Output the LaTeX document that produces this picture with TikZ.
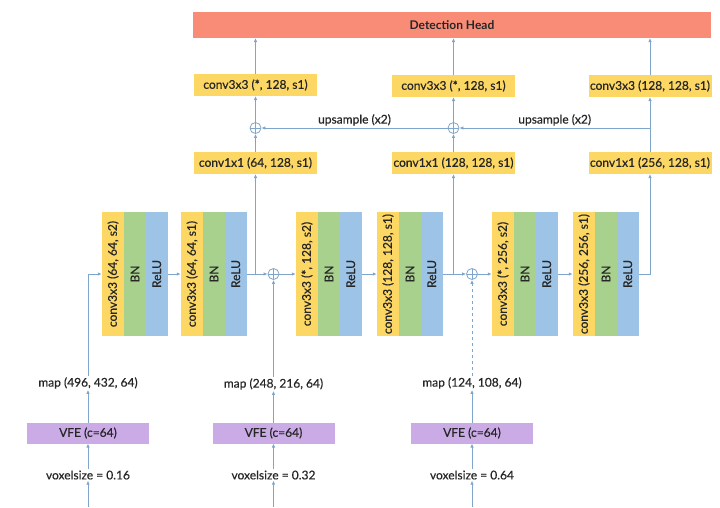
\documentclass[tikz,border=0pt]{standalone}
\usepackage{fontspec}
\setmainfont{Lato}[UprightFeatures={FakeBold=0.5}]
\usepackage{tikz}
\usetikzlibrary{calc, math}
\usetikzlibrary{arrows.meta}
\usetikzlibrary{positioning}
\definecolor{headcolor}{HTML}{F98C77}
\definecolor{convcolor}{HTML}{FCD763}
\definecolor{bncolor}{HTML}{A9D18E}
\definecolor{relucolor}{HTML}{9DC3E6}
\definecolor{vfecolor}{HTML}{CBABE6}
\definecolor{linkcolor}{HTML}{7FA5CB}
\definecolor{textcolor}{HTML}{262626}

\begin{document}
\begin{tikzpicture}[x=1pt, y=-1pt, font=\fontsize{12}{14}\selectfont,
  box/.style={rectangle, inner sep=0pt, outer sep=0pt, text=textcolor},
  headbox/.style={box, fill=headcolor, minimum width=518, minimum height=26},
  convbox/.style={box, fill=convcolor, minimum width=123, minimum height=22},
  vfebox/.style={box, fill=vfecolor, minimum width=122, minimum height=21},
  convbar/.style={box, fill=convcolor, minimum width=22.5, minimum height=124},
  bnbar/.style={box, fill=bncolor, minimum width=21.5, minimum height=124},
  relubar/.style={box, fill=relucolor, minimum width=22, minimum height=124},
  txtlabel/.style={inner sep=1pt, text=textcolor},
  sumnode/.style={circle, draw=linkcolor, line width=0.8pt, minimum size=11, inner sep=0pt,
    path picture={\draw[linkcolor, line width=0.8pt]
      (path picture bounding box.north) -- (path picture bounding box.south)
      (path picture bounding box.west) -- (path picture bounding box.east);}},
  link/.style={draw=linkcolor, line width=0.8pt, -{Latex[length=4pt, width=3.5pt]}}]
  \tikzmath{
    \colA=255.5;
    \colB=453.5;
    \colC=650;
    \yblk=274;
    \inA=88;
    \inB=273.5;
    \inC=472;
  }
  \useasboundingbox (0, 0) rectangle (720, 507);

  % Detection head and top-down path
  \node[headbox] (head) at (452, 25) {\bfseries Detection Head};

  \node[convbox] (top1) at (\colA, 85) {conv3x3 (*, 128, s1)};
  \node[convbox] (top2) at (\colB, 86) {conv3x3 (*, 128, s1)};
  \node[convbox] (top3) at (\colC, 86) {conv3x3 (128, 128, s1)};

  \node[sumnode] (sum1) at (\colA, 128) {};
  \node[sumnode] (sum2) at (\colB, 128) {};

  \node[convbox] (lat1) at (\colA, 163) {conv1x1 (64, 128, s1)};
  \node[convbox] (lat2) at (\colB, 163) {conv1x1 (128, 128, s1)};
  \node[convbox] (lat3) at (\colC, 163) {conv1x1 (256, 128, s1)};

  % Backbone blocks
  \foreach \i/\x/\lab in {1/113/{conv3x3 (64, 64, s2)}, 2/192/{conv3x3 (64, 64, s1)},
      3/307/{conv3x3 (*, 128, s2)}, 4/388/{conv3x3 (128, 128, s1)},
      5/503/{conv3x3 (*, 256, s2)}, 6/584/{conv3x3 (256, 256, s1)}} {
    \node[convbar] (conv\i) at (\x, \yblk) {\rotatebox{90}{\lab}};
    \node[bnbar, right=0pt of conv\i] (bn\i) {\rotatebox{90}{BN}};
    \node[relubar, right=0pt of bn\i] (relu\i) {\rotatebox{90}{ReLU}};
  }
  \node[sumnode] (sum3) at (\inB, \yblk) {};
  \node[sumnode] (sum4) at (\inC, \yblk) {};

  % Voxel inputs
  \coordinate (in1) at (\inA, 507);
  \coordinate (in2) at (\inB, 507);
  \coordinate (in3) at (\inC, 507);
  \node[txtlabel] (vox1) at (\inA, 475) {voxelsize = 0.16};
  \node[txtlabel] (vox2) at (\inB, 475) {voxelsize = 0.32};
  \node[txtlabel] (vox3) at (\inC, 475) {voxelsize = 0.64};
  \node[vfebox] (vfe1) at (\inA, 433) {VFE (c=64)};
  \node[vfebox] (vfe2) at (\inB, 433) {VFE (c=64)};
  \node[vfebox] (vfe3) at (\inC, 433) {VFE (c=64)};
  \node[txtlabel] (map1) at (\inA, 383) {map (496, 432, 64)};
  \node[txtlabel] (map2) at (\inB, 384) {map (248, 216, 64)};
  \node[txtlabel] (map3) at (\inC, 383) {map (124, 108, 64)};

  \foreach \i in {1, 2, 3} {
    \draw[link] (in\i) -- (vox\i);
    \draw[link] (vox\i) -- (vfe\i);
    \draw[link] (vfe\i) -- (map\i);
  }
  \draw[link] (map1) |- (conv1);
  \draw[link] (map2) -- (sum3);
  \draw[link, dashed] (map3) -- (sum4);

  % Block chain
  \draw[link] (relu1) -- (conv2);
  \draw[link] (relu2) -- (sum3);
  \draw[link] (sum3) -- (conv3);
  \draw[link] (relu3) -- (conv4);
  \draw[link] (relu4) -- (sum4);
  \draw[link] (sum4) -- (conv5);
  \draw[link] (relu5) -- (conv6);

  % Lateral branches
  \draw[link] (lat1.south |- relu2.east) -- (lat1);
  \draw[link] (lat2.south |- relu4.east) -- (lat2);
  \draw[link] (relu6.east) -| (lat3);

  \draw[link] (lat1) -- (sum1);
  \draw[link] (sum1) -- (top1);
  \draw[link] (lat2) -- (sum2);
  \draw[link] (sum2) -- (top2);
  \draw[link] (lat3) -- (top3);

  % Upsampling
  \draw[link] (lat3.north |- sum2) -- (sum2) node[midway, above, txtlabel, yshift=1pt] {upsample (x2)};
  \draw[link] (sum2) -- (sum1) node[midway, above, txtlabel, yshift=1pt] {upsample (x2)};

  % Into the head
  \draw[link] (top1) -- (top1.north |- head.south);
  \draw[link] (top2) -- (top2.north |- head.south);
  \draw[link] (top3) -- (top3.north |- head.south);
\end{tikzpicture}
\end{document}
